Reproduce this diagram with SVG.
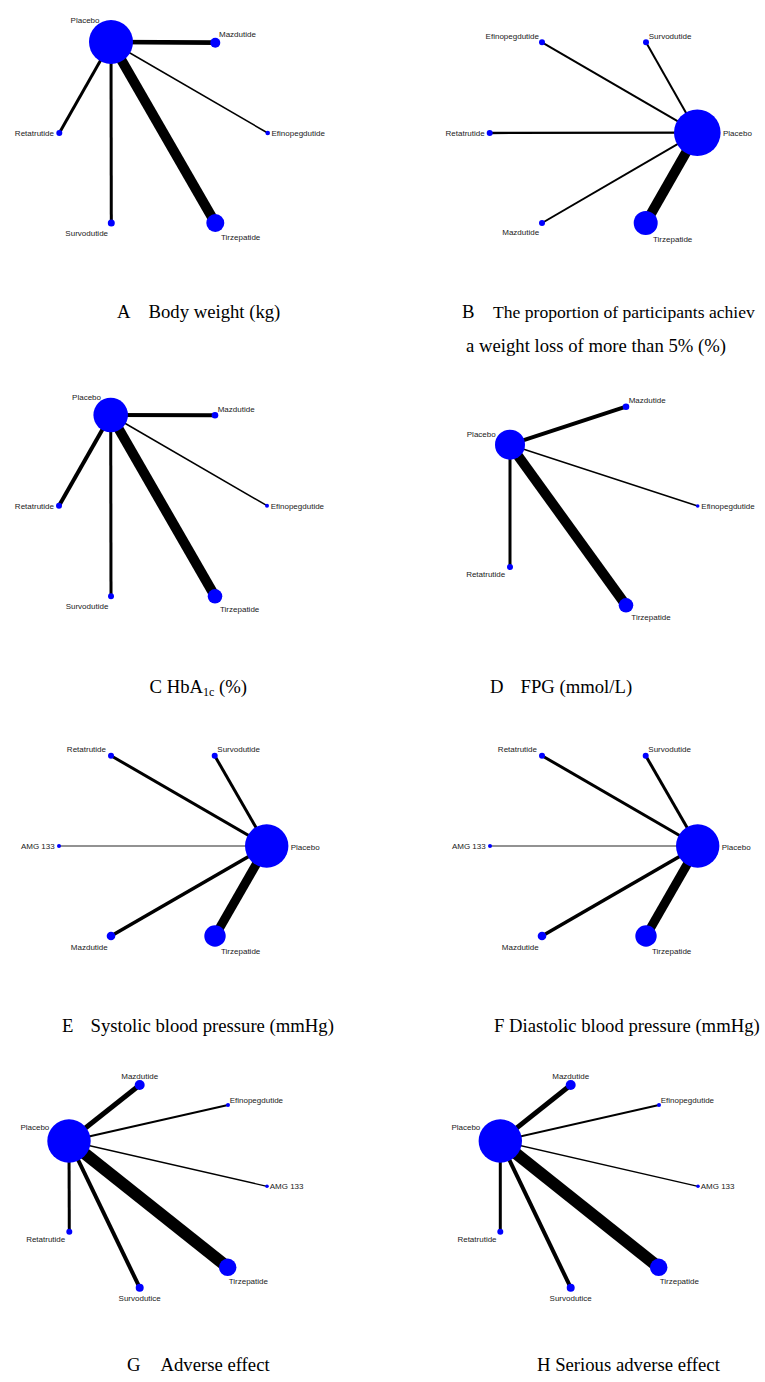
<svg xmlns="http://www.w3.org/2000/svg" width="765" height="1382" viewBox="0 0 765 1382">
<style>
.e{stroke:#000;fill:none;stroke-linecap:butt}
.g{stroke:#6e6e6e;fill:none}
.n{fill:#0000ff}
.l{font-family:"Liberation Sans",Arial,sans-serif;font-size:8px;fill:#222}
.s{text-anchor:start}.m{text-anchor:middle}.x{text-anchor:end}
.c{font-family:"Liberation Serif","Times New Roman",serif;font-size:18.7px;fill:#000}
</style>
<rect width="765" height="1382" fill="#fff"/>
<g id="connectors">
 <!-- A -->
 <line class="e" x1="111" y1="42" x2="215.3" y2="42.7" stroke-width="4.7"/>
 <line class="e" x1="111" y1="42" x2="267.7" y2="133" stroke-width="1.5"/>
 <line class="e" x1="111" y1="42" x2="59.3" y2="133" stroke-width="3"/>
 <line class="e" x1="111" y1="42" x2="111.3" y2="223" stroke-width="3"/>
 <line class="e" x1="111" y1="42" x2="215.3" y2="223" stroke-width="10"/>
 <!-- B -->
 <line class="e" x1="697.3" y1="132.7" x2="542" y2="42.3" stroke-width="2"/>
 <line class="e" x1="697.3" y1="132.7" x2="646" y2="42.3" stroke-width="2"/>
 <line class="e" x1="697.3" y1="132.7" x2="489.7" y2="133" stroke-width="2.3"/>
 <line class="e" x1="697.3" y1="132.7" x2="542" y2="223" stroke-width="2"/>
 <line class="e" x1="697.3" y1="132.7" x2="645.7" y2="223" stroke-width="10"/>
 <!-- C -->
 <line class="e" x1="110.7" y1="415" x2="215" y2="415.3" stroke-width="4"/>
 <line class="e" x1="110.7" y1="415" x2="267" y2="505.7" stroke-width="1.5"/>
 <line class="e" x1="110.7" y1="415" x2="59" y2="505.7" stroke-width="4"/>
 <line class="e" x1="110.7" y1="415" x2="111" y2="596.3" stroke-width="3"/>
 <line class="e" x1="110.7" y1="415" x2="215" y2="596.3" stroke-width="10"/>
 <!-- D -->
 <line class="e" x1="510" y1="444.7" x2="626" y2="406.7" stroke-width="4"/>
 <line class="e" x1="510" y1="444.7" x2="697.7" y2="506" stroke-width="1.5"/>
 <line class="e" x1="510" y1="444.7" x2="510" y2="567" stroke-width="3"/>
 <line class="e" x1="510" y1="444.7" x2="626" y2="605.3" stroke-width="10"/>
 <!-- E -->
 <line class="e" x1="266.7" y1="846" x2="111" y2="755.7" stroke-width="3"/>
 <line class="e" x1="266.7" y1="846" x2="214.7" y2="755.7" stroke-width="3"/>
 <line class="g" x1="266.7" y1="846" x2="59" y2="846" stroke-width="1.3"/>
 <line class="e" x1="266.7" y1="846" x2="111" y2="936" stroke-width="3.5"/>
 <line class="e" x1="266.7" y1="846" x2="215" y2="936" stroke-width="9"/>
 <!-- F -->
 <line class="e" x1="697.7" y1="846" x2="542" y2="755.7" stroke-width="3"/>
 <line class="e" x1="697.7" y1="846" x2="645.7" y2="755.7" stroke-width="3"/>
 <line class="g" x1="697.7" y1="846" x2="490" y2="846" stroke-width="1.3"/>
 <line class="e" x1="697.7" y1="846" x2="542" y2="936" stroke-width="3.5"/>
 <line class="e" x1="697.7" y1="846" x2="646" y2="936" stroke-width="9"/>
 <!-- G -->
 <line class="e" x1="69" y1="1141" x2="139.7" y2="1085" stroke-width="5"/>
 <line class="e" x1="69" y1="1141" x2="228" y2="1105" stroke-width="2"/>
 <line class="e" x1="69" y1="1141" x2="267" y2="1186.3" stroke-width="1.3"/>
 <line class="e" x1="69" y1="1141" x2="69.3" y2="1231.7" stroke-width="3"/>
 <line class="e" x1="69" y1="1141" x2="139.7" y2="1287.7" stroke-width="4"/>
 <line class="e" x1="69" y1="1141" x2="227.7" y2="1267.3" stroke-width="12"/>
 <!-- H -->
 <line class="e" x1="500.3" y1="1141" x2="570.7" y2="1085" stroke-width="5"/>
 <line class="e" x1="500.3" y1="1141" x2="659" y2="1105" stroke-width="2"/>
 <line class="e" x1="500.3" y1="1141" x2="698" y2="1186.3" stroke-width="1.3"/>
 <line class="e" x1="500.3" y1="1141" x2="500.3" y2="1231.7" stroke-width="3"/>
 <line class="e" x1="500.3" y1="1141" x2="570.7" y2="1287.7" stroke-width="4"/>
 <line class="e" x1="500.3" y1="1141" x2="658.7" y2="1267.3" stroke-width="12"/>
</g>

<!-- Panel A -->
<g id="A-placebo"><circle class="n" cx="111" cy="42" r="22"/><text class="l x" x="99.5" y="23">Placebo</text></g>
<g id="A-mazdutide"><circle class="n" cx="215.3" cy="42.7" r="5"/><text class="l s" x="219" y="37">Mazdutide</text></g>
<g id="A-efinopegdutide"><circle class="n" cx="267.7" cy="133" r="2.3"/><text class="l s" x="271.5" y="136">Efinopegdutide</text></g>
<g id="A-retatrutide"><circle class="n" cx="59.3" cy="133" r="3"/><text class="l x" x="54" y="136">Retatrutide</text></g>
<g id="A-survodutide"><circle class="n" cx="111.3" cy="223" r="3.5"/><text class="l m" x="86.7" y="236">Survodutide</text></g>
<g id="A-tirzepatide"><circle class="n" cx="215.3" cy="223" r="9"/><text class="l s" x="221" y="240">Tirzepatide</text></g>

<!-- Panel B -->
<g id="B-placebo"><circle class="n" cx="697.3" cy="132.7" r="23.3"/><text class="l s" x="723" y="136">Placebo</text></g>
<g id="B-efinopegdutide"><circle class="n" cx="542" cy="42.3" r="3"/><text class="l x" x="539" y="39">Efinopegdutide</text></g>
<g id="B-survodutide"><circle class="n" cx="646" cy="42.3" r="3"/><text class="l s" x="648.7" y="39">Survodutide</text></g>
<g id="B-retatrutide"><circle class="n" cx="489.7" cy="133" r="3"/><text class="l x" x="484.7" y="136">Retatrutide</text></g>
<g id="B-mazdutide"><circle class="n" cx="542" cy="223" r="3"/><text class="l m" x="520.7" y="235">Mazdutide</text></g>
<g id="B-tirzepatide"><circle class="n" cx="645.7" cy="223" r="12"/><text class="l s" x="653" y="242">Tirzepatide</text></g>

<!-- Panel C -->
<g id="C-placebo"><circle class="n" cx="110.7" cy="415" r="17.3"/><text class="l x" x="101" y="399.5">Placebo</text></g>
<g id="C-mazdutide"><circle class="n" cx="215" cy="415.3" r="3.3"/><text class="l s" x="217.7" y="412">Mazdutide</text></g>
<g id="C-efinopegdutide"><circle class="n" cx="267" cy="505.7" r="2"/><text class="l s" x="270.7" y="509">Efinopegdutide</text></g>
<g id="C-retatrutide"><circle class="n" cx="59" cy="505.7" r="3"/><text class="l x" x="54" y="509">Retatrutide</text></g>
<g id="C-survodutide"><circle class="n" cx="111" cy="596.3" r="3"/><text class="l m" x="87" y="608.7">Survodutide</text></g>
<g id="C-tirzepatide"><circle class="n" cx="215" cy="596.3" r="7.3"/><text class="l s" x="220" y="612">Tirzepatide</text></g>

<!-- Panel D -->
<g id="D-placebo"><circle class="n" cx="510" cy="444.7" r="15"/><text class="l x" x="495.7" y="437">Placebo</text></g>
<g id="D-mazdutide"><circle class="n" cx="626" cy="406.7" r="3.3"/><text class="l s" x="628.7" y="403">Mazdutide</text></g>
<g id="D-efinopegdutide"><circle class="n" cx="697.7" cy="506" r="1.8"/><text class="l s" x="701.3" y="509">Efinopegdutide</text></g>
<g id="D-retatrutide"><circle class="n" cx="510" cy="567" r="3"/><text class="l m" x="485.7" y="577">Retatrutide</text></g>
<g id="D-tirzepatide"><circle class="n" cx="626" cy="605.3" r="7.3"/><text class="l s" x="631.3" y="620">Tirzepatide</text></g>

<!-- Panel E -->
<g id="E-placebo"><circle class="n" cx="266.7" cy="846" r="21.7"/><text class="l s" x="290.7" y="849.5">Placebo</text></g>
<g id="E-retatrutide"><circle class="n" cx="111" cy="755.7" r="3"/><text class="l x" x="106" y="752">Retatrutide</text></g>
<g id="E-survodutide"><circle class="n" cx="214.7" cy="755.7" r="3"/><text class="l s" x="217.3" y="752">Survodutide</text></g>
<g id="E-amg133"><circle class="n" cx="59" cy="846" r="2"/><text class="l x" x="54.7" y="849">AMG 133</text></g>
<g id="E-mazdutide"><circle class="n" cx="111" cy="936" r="4.3"/><text class="l m" x="89.3" y="949.5">Mazdutide</text></g>
<g id="E-tirzepatide"><circle class="n" cx="215" cy="936" r="10.7"/><text class="l s" x="221" y="954">Tirzepatide</text></g>

<!-- Panel F -->
<g id="F-placebo"><circle class="n" cx="697.7" cy="846" r="21.7"/><text class="l s" x="721.7" y="849.5">Placebo</text></g>
<g id="F-retatrutide"><circle class="n" cx="542" cy="755.7" r="3"/><text class="l x" x="537" y="752">Retatrutide</text></g>
<g id="F-survodutide"><circle class="n" cx="645.7" cy="755.7" r="3"/><text class="l s" x="648.3" y="752">Survodutide</text></g>
<g id="F-amg133"><circle class="n" cx="490" cy="846" r="2"/><text class="l x" x="485.7" y="849">AMG 133</text></g>
<g id="F-mazdutide"><circle class="n" cx="542" cy="936" r="4.3"/><text class="l m" x="520.3" y="949.5">Mazdutide</text></g>
<g id="F-tirzepatide"><circle class="n" cx="646" cy="936" r="10.7"/><text class="l s" x="652" y="954">Tirzepatide</text></g>

<!-- Panel G -->
<g id="G-placebo"><circle class="n" cx="69" cy="1141" r="21.7"/><text class="l x" x="49.3" y="1130">Placebo</text></g>
<g id="G-mazdutide"><circle class="n" cx="139.7" cy="1085" r="5"/><text class="l m" x="139.7" y="1079">Mazdutide</text></g>
<g id="G-efinopegdutide"><circle class="n" cx="228" cy="1105" r="2"/><text class="l s" x="229.7" y="1102.5">Efinopegdutide</text></g>
<g id="G-amg133"><circle class="n" cx="267" cy="1186.3" r="1.8"/><text class="l s" x="269.7" y="1189">AMG 133</text></g>
<g id="G-retatrutide"><circle class="n" cx="69.3" cy="1231.7" r="3"/><text class="l m" x="45.7" y="1242">Retatrutide</text></g>
<g id="G-survodutice"><circle class="n" cx="139.7" cy="1287.7" r="4"/><text class="l m" x="139.7" y="1301">Survodutice</text></g>
<g id="G-tirzepatide"><circle class="n" cx="227.7" cy="1267.3" r="8.7"/><text class="l s" x="228.7" y="1283.5">Tirzepatide</text></g>

<!-- Panel H -->
<g id="H-placebo"><circle class="n" cx="500.3" cy="1141" r="21.7"/><text class="l x" x="480.3" y="1130">Placebo</text></g>
<g id="H-mazdutide"><circle class="n" cx="570.7" cy="1085" r="5"/><text class="l m" x="570.7" y="1079">Mazdutide</text></g>
<g id="H-efinopegdutide"><circle class="n" cx="659" cy="1105" r="2"/><text class="l s" x="660.7" y="1102.5">Efinopegdutide</text></g>
<g id="H-amg133"><circle class="n" cx="698" cy="1186.3" r="1.8"/><text class="l s" x="700.7" y="1189">AMG 133</text></g>
<g id="H-retatrutide"><circle class="n" cx="500.3" cy="1231.7" r="3"/><text class="l m" x="477" y="1242">Retatrutide</text></g>
<g id="H-survodutice"><circle class="n" cx="570.7" cy="1287.7" r="4"/><text class="l m" x="570.7" y="1301">Survodutice</text></g>
<g id="H-tirzepatide"><circle class="n" cx="658.7" cy="1267.3" r="8.7"/><text class="l s" x="659.7" y="1283.5">Tirzepatide</text></g>

<!-- Captions -->
<g id="captions">
 <text class="c" y="318"><tspan x="117">A</tspan><tspan x="148.5">Body weight (kg)</tspan></text>
 <text class="c" x="462" y="318">B</text>
 <text class="c" x="493" y="318" style="font-size:17.6px">The proportion of participants achiev</text>
 <text class="c" x="466" y="352">a weight loss of more than 5% (%)</text>
 <text class="c" x="149.5" y="693">C HbA<tspan font-size="12" dy="3">1c</tspan><tspan dy="-3"> (%)</tspan></text>
 <text class="c" y="693"><tspan x="490">D</tspan><tspan x="520.5">FPG (mmol/L)</tspan></text>
 <text class="c" y="1031.5"><tspan x="62">E</tspan><tspan x="90.5">Systolic blood pressure (mmHg)</tspan></text>
 <text class="c" x="494" y="1031.5">F Diastolic blood pressure (mmHg)</text>
 <text class="c" y="1371"><tspan x="127">G</tspan><tspan x="160.5">Adverse effect</tspan></text>
 <text class="c" x="537" y="1371">H Serious adverse effect</text>
</g>
</svg>
